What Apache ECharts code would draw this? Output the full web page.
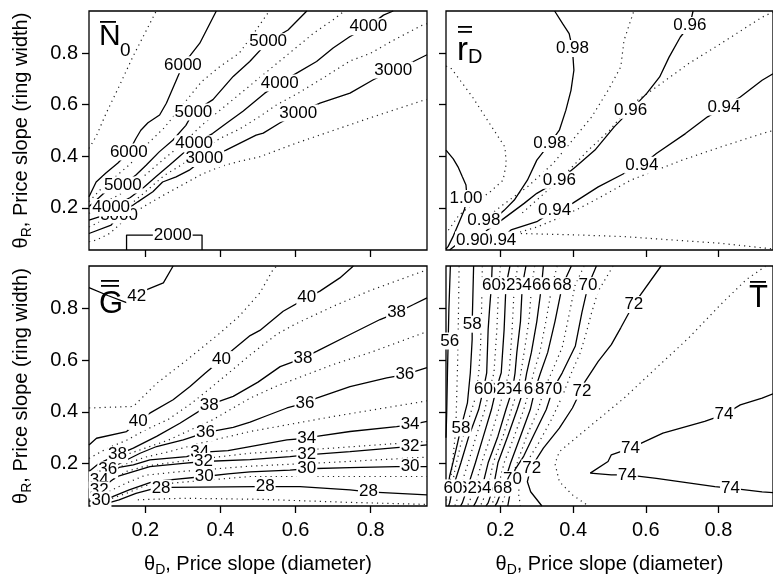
<!DOCTYPE html>
<html><head><meta charset="utf-8">
<script src="https://cdn.jsdelivr.net/npm/echarts@6/dist/echarts.min.js"></script>
<style>html,body{margin:0;padding:0;background:#fff}#c{width:773px;height:586px}</style>
</head><body><div id="c"></div>
<script>
const X_TICKS = [0.2, 0.4, 0.6, 0.8];
const Y_TICKS = [0.2, 0.4, 0.6, 0.8];

// ---------- Panel 1: mean N0 ----------
const N0_SOLID_LEVELS = [6000, 5000, 4000, 3000, 2000];
const N0_SOLID = [
 [[0.05,0.243],[0.069,0.30],[0.095,0.335],[0.127,0.374],[0.156,0.417],[0.175,0.469],[0.188,0.501],[0.207,0.53],[0.238,0.56],[0.256,0.606],[0.283,0.697],[0.30,0.755],[0.345,0.839],[0.389,0.964]],
 [[0.05,0.205],[0.077,0.24],[0.10,0.27],[0.14,0.288],[0.175,0.327],[0.202,0.365],[0.237,0.417],[0.273,0.462],[0.308,0.52],[0.328,0.572],[0.38,0.62],[0.434,0.71],[0.478,0.768],[0.527,0.845],[0.58,0.89],[0.63,0.964]],
 [[0.05,0.152],[0.077,0.165],[0.109,0.201],[0.16,0.24],[0.197,0.281],[0.228,0.32],[0.264,0.365],[0.29,0.398],[0.33,0.449],[0.379,0.488],[0.415,0.527],[0.46,0.575],[0.518,0.645],[0.558,0.684],[0.603,0.723],[0.656,0.768],[0.70,0.82],[0.745,0.865],[0.794,0.903],[0.834,0.948],[0.86,0.964]],
 [[0.05,0.10],[0.109,0.133],[0.13,0.172],[0.18,0.223],[0.22,0.262],[0.246,0.30],[0.282,0.32],[0.317,0.346],[0.357,0.391],[0.415,0.424],[0.459,0.456],[0.495,0.482],[0.514,0.49],[0.558,0.529],[0.607,0.568],[0.665,0.606],[0.745,0.645],[0.807,0.697],[0.86,0.735],[0.914,0.768],[0.95,0.794]],
 [[0.15,0.036],[0.15,0.094],[0.351,0.094],[0.351,0.036]]
];
const N0_DOTTED_LEVELS = [6500, 5500, 4500, 3500, 2500];
const N0_DOTTED = [
 [[0.05,0.43],[0.069,0.477],[0.096,0.568],[0.13,0.671],[0.167,0.787],[0.229,0.964]],
 [[0.05,0.224],[0.08,0.27],[0.12,0.32],[0.16,0.37],[0.2,0.44],[0.25,0.51],[0.3,0.6],[0.35,0.69],[0.4,0.75],[0.45,0.8],[0.49,0.88],[0.53,0.964]],
 [[0.05,0.178],[0.09,0.22],[0.13,0.25],[0.17,0.29],[0.21,0.34],[0.25,0.39],[0.3,0.45],[0.35,0.52],[0.4,0.58],[0.45,0.64],[0.5,0.7],[0.55,0.76],[0.6,0.82],[0.65,0.88],[0.7,0.93],[0.73,0.964]],
 [[0.05,0.125],[0.1,0.16],[0.15,0.2],[0.2,0.262],[0.25,0.325],[0.3,0.37],[0.35,0.425],[0.4,0.47],[0.45,0.505],[0.5,0.55],[0.55,0.6],[0.607,0.645],[0.68,0.71],[0.745,0.77],[0.8,0.8],[0.86,0.85],[0.936,0.908],[0.95,0.915]],
 [[0.05,0.068],[0.07,0.075],[0.106,0.101],[0.15,0.16],[0.195,0.204],[0.25,0.25],[0.3,0.29],[0.35,0.33],[0.4,0.36],[0.45,0.38],[0.505,0.398],[0.6,0.45],[0.7,0.5],[0.8,0.55],[0.94,0.617],[0.95,0.62]]
];
const N0_LABELS = [
 [0.13,0.172,'3000'],[0.109,0.201,'4000'],[0.14,0.288,'5000'],[0.156,0.417,'6000'],
 [0.30,0.755,'6000'],[0.527,0.845,'5000'],[0.328,0.572,'5000'],
 [0.794,0.903,'4000'],[0.558,0.684,'4000'],[0.33,0.449,'4000'],
 [0.86,0.735,'3000'],[0.607,0.568,'3000'],[0.357,0.391,'3000'],[0.273,0.094,'2000']
];

// ---------- Panel 2: mean r_D ----------
const RD_SOLID_LEVELS = [1.00, 0.98, 0.96, 0.94, 0.90];
const RD_SOLID = [
 [[0.05,0.424],[0.07,0.39],[0.083,0.359],[0.095,0.32],[0.105,0.288],[0.108,0.236],[0.1,0.19],[0.085,0.14],[0.07,0.09],[0.056,0.05],[0.05,0.04]],
 [[0.12,0.14],[0.154,0.152],[0.186,0.16],[0.21,0.19],[0.238,0.23],[0.274,0.307],[0.30,0.385],[0.336,0.45],[0.362,0.501],[0.38,0.579],[0.394,0.656],[0.402,0.734],[0.398,0.818],[0.389,0.876],[0.371,0.915],[0.349,0.964]],
 [[0.16,0.11],[0.203,0.152],[0.265,0.217],[0.30,0.256],[0.362,0.307],[0.407,0.359],[0.46,0.424],[0.513,0.514],[0.558,0.579],[0.602,0.643],[0.638,0.708],[0.664,0.785],[0.695,0.863],[0.721,0.908],[0.73,0.964]],
 [[0.198,0.075],[0.229,0.114],[0.30,0.146],[0.349,0.191],[0.398,0.217],[0.469,0.281],[0.54,0.333],[0.589,0.365],[0.629,0.411],[0.709,0.488],[0.77,0.553],[0.815,0.591],[0.86,0.63],[0.92,0.695],[0.95,0.72]],
 [[0.06,0.036],[0.08,0.058],[0.1,0.07],[0.123,0.075]]
];
const RD_DOTTED_LEVELS = [0.99, 0.97, 0.95, 0.93, 0.92];
const RD_DOTTED = [
 [[0.05,0.75],[0.065,0.74],[0.123,0.63],[0.176,0.514],[0.212,0.436],[0.216,0.372],[0.207,0.307],[0.17,0.26],[0.14,0.23],[0.11,0.2],[0.085,0.17],[0.065,0.13],[0.05,0.1]],
 [[0.16,0.16],[0.212,0.217],[0.274,0.281],[0.345,0.372],[0.398,0.462],[0.451,0.553],[0.496,0.656],[0.531,0.747],[0.54,0.85],[0.567,0.964]],
 [[0.26,0.18],[0.30,0.23],[0.371,0.32],[0.442,0.424],[0.5,0.5],[0.56,0.6],[0.629,0.669],[0.718,0.76],[0.806,0.837],[0.92,0.94],[0.95,0.96]],
 [[0.24,0.1],[0.3,0.125],[0.36,0.16],[0.42,0.2],[0.48,0.245],[0.558,0.307],[0.70,0.385],[0.806,0.436],[0.92,0.488],[0.95,0.50]],
 [[0.256,0.1],[0.4,0.095],[0.54,0.088],[0.806,0.062],[0.95,0.04]]
];
const RD_LABELS = [
 [0.398,0.818,'0.98'],[0.336,0.45,'0.98'],[0.154,0.152,'0.98'],[0.105,0.236,'1.00'],
 [0.721,0.908,'0.96'],[0.558,0.579,'0.96'],[0.362,0.307,'0.96'],
 [0.815,0.591,'0.94'],[0.589,0.365,'0.94'],[0.349,0.191,'0.94'],[0.198,0.075,'0.94'],[0.123,0.075,'0.90']
];

// ---------- Panel 3: mean G ----------
const G_SOLID_LEVELS = [42, 40, 38, 36, 34, 32, 30, 28];
const G_SOLID = [
 [[0.05,0.88],[0.1,0.85],[0.15,0.822],[0.177,0.847],[0.204,0.873],[0.248,0.899],[0.274,0.964]],
 [[0.05,0.272],[0.07,0.298],[0.15,0.324],[0.181,0.363],[0.212,0.395],[0.274,0.447],[0.319,0.498],[0.36,0.55],[0.403,0.602],[0.434,0.641],[0.479,0.695],[0.505,0.715],[0.567,0.789],[0.63,0.841],[0.665,0.867],[0.718,0.918],[0.754,0.964]],
 [[0.05,0.169],[0.077,0.201],[0.126,0.234],[0.168,0.26],[0.23,0.305],[0.292,0.356],[0.37,0.427],[0.434,0.46],[0.5,0.515],[0.559,0.575],[0.62,0.608],[0.656,0.634],[0.745,0.699],[0.825,0.757],[0.869,0.783],[0.914,0.815],[0.95,0.841]],
 [[0.05,0.137],[0.1,0.176],[0.15,0.214],[0.186,0.24],[0.23,0.266],[0.301,0.292],[0.36,0.32],[0.434,0.34],[0.479,0.36],[0.523,0.385],[0.577,0.415],[0.625,0.434],[0.656,0.453],[0.745,0.498],[0.843,0.531],[0.891,0.544],[0.95,0.571]],
 [[0.05,0.12],[0.077,0.137],[0.13,0.185],[0.168,0.195],[0.212,0.214],[0.31,0.227],[0.345,0.243],[0.42,0.25],[0.479,0.266],[0.577,0.292],[0.63,0.298],[0.656,0.305],[0.745,0.324],[0.869,0.343],[0.905,0.35],[0.95,0.363]],
 [[0.05,0.09],[0.077,0.098],[0.124,0.15],[0.168,0.169],[0.212,0.188],[0.301,0.201],[0.355,0.208],[0.479,0.215],[0.585,0.227],[0.63,0.234],[0.745,0.246],[0.869,0.262],[0.905,0.266],[0.95,0.272]],
 [[0.05,0.055],[0.082,0.059],[0.113,0.072],[0.157,0.098],[0.22,0.13],[0.264,0.137],[0.357,0.15],[0.42,0.16],[0.479,0.168],[0.585,0.175],[0.63,0.18],[0.745,0.184],[0.869,0.188],[0.905,0.188],[0.95,0.188]],
 [[0.08,0.036],[0.095,0.045],[0.13,0.06],[0.175,0.085],[0.215,0.1],[0.242,0.105],[0.264,0.108],[0.495,0.111],[0.519,0.111],[0.612,0.111],[0.745,0.098],[0.794,0.091],[0.95,0.079]]
];
const G_DOTTED_LEVELS = [41, 39, 37, 35, 33, 31, 29, 27];
const G_DOTTED = [
 [[0.05,0.415],[0.168,0.421],[0.23,0.51],[0.31,0.6],[0.399,0.705],[0.45,0.77],[0.505,0.86],[0.54,0.95],[0.55,0.964]],
 [[0.05,0.22],[0.1,0.26],[0.15,0.29],[0.2,0.33],[0.26,0.37],[0.32,0.43],[0.38,0.5],[0.43,0.56],[0.479,0.62],[0.55,0.7],[0.6,0.74],[0.7,0.808],[0.8,0.87],[0.94,0.944],[0.95,0.95]],
 [[0.05,0.15],[0.1,0.2],[0.15,0.235],[0.2,0.26],[0.26,0.29],[0.32,0.33],[0.38,0.37],[0.479,0.453],[0.55,0.5],[0.7,0.583],[0.8,0.63],[0.94,0.705],[0.95,0.71]],
 [[0.05,0.128],[0.1,0.16],[0.15,0.2],[0.2,0.225],[0.26,0.245],[0.35,0.28],[0.479,0.324],[0.7,0.382],[0.94,0.44],[0.95,0.443]],
 [[0.05,0.105],[0.1,0.125],[0.15,0.17],[0.2,0.19],[0.3,0.21],[0.479,0.24],[0.7,0.26],[0.94,0.285],[0.95,0.285]],
 [[0.05,0.075],[0.1,0.09],[0.15,0.125],[0.2,0.155],[0.3,0.17],[0.479,0.19],[0.7,0.205],[0.95,0.225]],
 [[0.06,0.036],[0.1,0.06],[0.15,0.085],[0.2,0.115],[0.3,0.128],[0.479,0.15],[0.7,0.15],[0.95,0.15]],
 [[0.18,0.06],[0.3,0.066],[0.5,0.062],[0.745,0.05],[0.95,0.042]]
];
const G_LABELS = [
 [0.177,0.847,'42'],[0.181,0.363,'40'],[0.403,0.602,'40'],[0.63,0.841,'40'],
 [0.126,0.234,'38'],[0.37,0.427,'38'],[0.62,0.608,'38'],[0.869,0.783,'38'],
 [0.1,0.176,'36'],[0.36,0.32,'36'],[0.625,0.434,'36'],[0.891,0.544,'36'],
 [0.077,0.137,'34'],[0.345,0.243,'34'],[0.63,0.298,'34'],[0.905,0.35,'34'],
 [0.077,0.098,'32'],[0.355,0.208,'32'],[0.63,0.234,'32'],[0.905,0.266,'32'],
 [0.082,0.059,'30'],[0.357,0.15,'30'],[0.63,0.18,'30'],[0.905,0.188,'30'],
 [0.242,0.105,'28'],[0.519,0.111,'28'],[0.794,0.091,'28']
];

// ---------- Panel 4: mean T ----------
const T_SOLID_LEVELS = [56, 58, 60, 62, 64, 66, 68, 70, 72, 74];
const T_SOLID = [
 [[0.062,0.964],[0.058,0.8],[0.056,0.674],[0.054,0.55],[0.052,0.4],[0.05,0.3]],
 [[0.126,0.964],[0.124,0.85],[0.122,0.739],[0.122,0.68],[0.117,0.551],[0.109,0.435],[0.091,0.338],[0.082,0.28],[0.069,0.203],[0.06,0.151],[0.053,0.09],[0.05,0.07]],
 [[0.177,0.964],[0.175,0.888],[0.17,0.8],[0.166,0.719],[0.162,0.551],[0.153,0.487],[0.14,0.409],[0.113,0.306],[0.091,0.203],[0.069,0.106],[0.06,0.048],[0.057,0.036]],
 [[0.226,0.964],[0.215,0.888],[0.21,0.719],[0.202,0.551],[0.188,0.487],[0.175,0.409],[0.153,0.306],[0.131,0.203],[0.109,0.106],[0.095,0.048],[0.09,0.036]],
 [[0.27,0.964],[0.26,0.888],[0.255,0.75],[0.245,0.63],[0.24,0.55],[0.233,0.487],[0.215,0.409],[0.193,0.306],[0.166,0.203],[0.149,0.106],[0.131,0.048],[0.126,0.036]],
 [[0.318,0.964],[0.313,0.888],[0.30,0.75],[0.285,0.63],[0.272,0.55],[0.264,0.487],[0.246,0.409],[0.22,0.306],[0.193,0.203],[0.18,0.106],[0.166,0.048],[0.16,0.036]],
 [[0.395,0.964],[0.37,0.888],[0.35,0.75],[0.33,0.63],[0.31,0.55],[0.295,0.487],[0.282,0.409],[0.255,0.306],[0.228,0.203],[0.206,0.106],[0.19,0.048],[0.185,0.036]],
 [[0.464,0.964],[0.441,0.888],[0.424,0.784],[0.406,0.655],[0.37,0.551],[0.344,0.487],[0.326,0.409],[0.29,0.306],[0.264,0.229],[0.24,0.177],[0.233,0.138],[0.225,0.074],[0.22,0.036]],
 [[0.642,0.964],[0.566,0.815],[0.531,0.725],[0.505,0.66],[0.469,0.595],[0.433,0.518],[0.42,0.479],[0.398,0.415],[0.362,0.337],[0.318,0.26],[0.283,0.182],[0.274,0.13],[0.283,0.091],[0.314,0.036]],
 [[0.95,0.47],[0.92,0.453],[0.86,0.427],[0.815,0.389],[0.762,0.363],[0.647,0.318],[0.558,0.26],[0.505,0.234],[0.496,0.208],[0.447,0.163],[0.505,0.156],[0.549,0.156],[0.629,0.143],[0.79,0.111],[0.833,0.105],[0.92,0.091],[0.95,0.088]]
];
const T_DOTTED_LEVELS = [57, 59, 61, 63, 65, 67, 69, 71, 73];
const T_DOTTED = [
 [[0.086,0.964],[0.084,0.75],[0.082,0.59],[0.077,0.332],[0.064,0.151],[0.055,0.08],[0.05,0.05]],
 [[0.15,0.964],[0.148,0.8],[0.145,0.65],[0.14,0.55],[0.13,0.45],[0.11,0.36],[0.09,0.27],[0.075,0.18],[0.065,0.1],[0.06,0.05]],
 [[0.2,0.964],[0.195,0.888],[0.19,0.719],[0.182,0.551],[0.17,0.487],[0.157,0.409],[0.133,0.306],[0.111,0.203],[0.089,0.106],[0.078,0.048],[0.074,0.036]],
 [[0.248,0.964],[0.238,0.888],[0.232,0.719],[0.224,0.551],[0.21,0.487],[0.195,0.409],[0.173,0.306],[0.148,0.203],[0.129,0.106],[0.113,0.048],[0.108,0.036]],
 [[0.294,0.964],[0.286,0.888],[0.278,0.75],[0.265,0.63],[0.256,0.55],[0.248,0.487],[0.23,0.409],[0.207,0.306],[0.18,0.203],[0.165,0.106],[0.149,0.048],[0.143,0.036]],
 [[0.356,0.964],[0.342,0.888],[0.325,0.75],[0.308,0.63],[0.291,0.55],[0.28,0.487],[0.264,0.409],[0.238,0.306],[0.21,0.203],[0.193,0.106],[0.178,0.048],[0.172,0.036]],
 [[0.43,0.964],[0.405,0.888],[0.388,0.77],[0.37,0.65],[0.34,0.55],[0.32,0.487],[0.304,0.409],[0.272,0.306],[0.246,0.203],[0.22,0.106],[0.205,0.048],[0.2,0.036]],
 [[0.51,0.964],[0.469,0.867],[0.45,0.78],[0.435,0.7],[0.42,0.63],[0.395,0.55],[0.37,0.46],[0.34,0.37],[0.305,0.28],[0.27,0.2],[0.252,0.14],[0.25,0.08],[0.255,0.036]],
 [[0.93,0.964],[0.877,0.912],[0.806,0.815],[0.718,0.686],[0.629,0.57],[0.54,0.453],[0.451,0.35],[0.362,0.246],[0.35,0.2],[0.362,0.13],[0.398,0.079],[0.442,0.036]]
];
const T_LABELS = [
 [0.441,0.888,'70'],[0.37,0.888,'68'],[0.313,0.888,'66'],[0.26,0.888,'64'],[0.215,0.888,'62'],[0.175,0.888,'60'],
 [0.344,0.487,'70'],[0.295,0.487,'68'],[0.264,0.487,'66'],[0.233,0.487,'64'],[0.188,0.487,'62'],[0.153,0.487,'60'],
 [0.233,0.138,'70'],[0.206,0.106,'68'],[0.18,0.106,'66'],[0.149,0.106,'64'],[0.109,0.106,'62'],[0.069,0.106,'60'],
 [0.122,0.739,'58'],[0.06,0.674,'56'],[0.091,0.338,'58'],
 [0.567,0.815,'72'],[0.424,0.48,'72'],[0.286,0.183,'72'],
 [0.815,0.389,'74'],[0.558,0.26,'74'],[0.549,0.156,'74'],[0.833,0.105,'74']
];

const FONT = '"Liberation Sans", Arial, sans-serif';
const grids = [
  {left:89, top:11, width:338, height:239},
  {left:446, top:11, width:338, height:239},
  {left:89, top:266, width:338, height:240},
  {left:446, top:266, width:338, height:240}
].map(g => Object.assign(g, {show:true, borderColor:'#000', borderWidth:1.3, backgroundColor:'rgba(0,0,0,0)', containLabel:false}));

const richName = {
  a: {fontSize:20, lineHeight:22, verticalAlign:'top', fontFamily:FONT, color:'#000'},
  b: {fontSize:14, lineHeight:16, verticalAlign:'top', padding:[9,0,0,0], fontFamily:FONT, color:'#000'}
};
const xAxes = [0,1,2,3].map(i => ({
  gridIndex:i, type:'value', min:0.05, max:0.95,
  axisLine:{show:false, onZero:false}, splitLine:{show:false},
  axisTick:{show:true, customValues:X_TICKS, length:7, lineStyle:{color:'#000', width:1.3}},
  axisLabel:{show:i>=2, customValues:X_TICKS, formatter:v=>v.toFixed(1), fontSize:20, color:'#000', fontFamily:FONT, margin:14},
  name: i>=2 ? '{a|θ}{b|D}{a|, Price slope (diameter)}' : '',
  nameLocation:'middle', nameGap:48,
  nameTextStyle:{fontSize:20, color:'#000', fontFamily:FONT, rich:richName}
}));
const yAxes = [0,1,2,3].map(i => ({
  gridIndex:i, type:'value', min:0.036, max:0.964,
  axisLine:{show:false, onZero:false}, splitLine:{show:false},
  axisTick:{show:true, customValues:Y_TICKS, length:7, lineStyle:{color:'#000', width:1.3}},
  axisLabel:{show:i%2===0, customValues:Y_TICKS, formatter:v=>v.toFixed(1), fontSize:20, color:'#000', fontFamily:FONT, margin:11},
  name: i%2===0 ? '{a|θ}{b|R}{a|, Price slope (ring width)}' : '',
  nameLocation:'middle', nameGap:56, nameRotate:90,
  nameTextStyle:{fontSize:20, color:'#000', fontFamily:FONT, rich:richName}
}));

const series = [];
function addPanel(idx, solid, dotted, labels) {
  dotted.forEach(p => series.push({type:'line', xAxisIndex:idx, yAxisIndex:idx, data:p, symbol:'none', silent:true, z:2,
    lineStyle:{color:'#222', width:1.2, type:[1.2,4]}}));
  solid.forEach(p => series.push({type:'line', xAxisIndex:idx, yAxisIndex:idx, data:p, symbol:'none', silent:true, z:3,
    lineStyle:{color:'#000', width:1.3}}));
  series.push({type:'scatter', xAxisIndex:idx, yAxisIndex:idx, silent:true, z:5, symbolSize:1,
    itemStyle:{color:'#fff', opacity:1},
    data: labels.map(l => ({value:[l[0], l[1]], name:l[2]})),
    label:{show:true, position:'inside', formatter:'{b}', color:'#000', opacity:1, fontSize:17, fontFamily:FONT,
      backgroundColor:'#fff', padding:[0,1], lineHeight:17, textBorderWidth:0}});
}
addPanel(0, N0_SOLID, N0_DOTTED, N0_LABELS);
addPanel(1, RD_SOLID, RD_DOTTED, RD_LABELS);
addPanel(2, G_SOLID, G_DOTTED, G_LABELS);
addPanel(3, T_SOLID, T_DOTTED, T_LABELS);

function txt(t, x, y, size) {
  return {type:'text', z:20, style:{text:t, x:x, y:y, font: size + 'px ' + FONT, fill:'#000', verticalAlign:'middle'}};
}
function bar(x, y, w) {
  return {type:'rect', z:20, shape:{x:x, y:y, width:w, height:1.8}, style:{fill:'#000'}};
}
const graphic = [
  txt('N', 99, 37, 30), bar(100, 21, 16), txt('0', 120, 51, 19),
  txt('r', 457, 51, 33), bar(458, 26, 14), bar(458, 31, 14), txt('D', 468, 57, 20),
  txt('G', 99, 304, 31), bar(101, 280, 18), bar(101, 285, 18),
  txt('T', 749, 298, 31), bar(750, 281, 16)
];

const chart = echarts.init(document.getElementById('c'), null, {renderer:'canvas'});
chart.setOption({
  animation:false, backgroundColor:'#fff',
  grid:grids, xAxis:xAxes, yAxis:yAxes, series:series, graphic:graphic
});
</script></body></html>
